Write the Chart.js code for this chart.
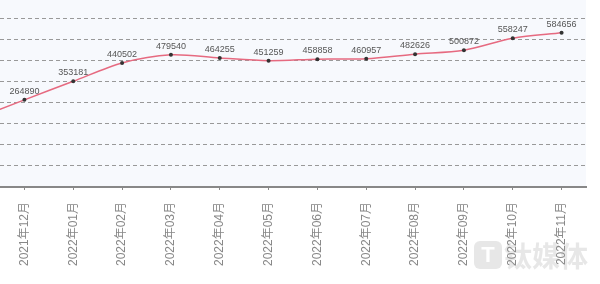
<!DOCTYPE html>
<html>
<head>
<meta charset="utf-8">
<script src="https://cdn.jsdelivr.net/npm/chart.js@4/dist/chart.umd.min.js"></script>
<style>
  html, body { margin: 0; padding: 0; background: #fff; }
  #wrap { position: relative; width: 600px; height: 284px; overflow: hidden; }
  #chart { position: absolute; left: -4px; top: -3px; }
  #mark { position: absolute; left: 474px; top: 240px; display: flex; align-items: center;
          font-family: "Noto Sans CJK SC", sans-serif; font-size: 28px; font-weight: bold;
          color: rgba(160,160,160,0.25); line-height: 30px; }
  #mark .logo { width: 28px; height: 28px; border-radius: 6px; background: rgba(160,160,160,0.25);
                color: #fff; font-family: Arial, sans-serif; font-size: 22px; text-align: center;
                line-height: 28px; margin-right: 2px; }
</style>
</head>
<body>
<div id="wrap">
  <canvas id="chart" width="604" height="287"></canvas>
  <div id="mark"><span class="logo">T</span>钛媒体</div>
</div>
<script>
// months shown (first one sits just left of the visible area)
const months = ["2021年11月", "2021年12月", "2022年01月", "2022年02月", "2022年03月", "2022年04月",
  "2022年05月", "2022年06月", "2022年07月", "2022年08月", "2022年09月", "2022年10月", "2022年11月"];
const values = [175000, 264890, 353181, 440502, 479540, 464255, 451259, 458858, 460957, 482626, 500872, 558247, 584656];

const yMin = -150000;
const yStep = 100000;
const yMax = yMin + 186 / 21 * yStep;

// light plot background
const bgPlugin = {
  id: "bg",
  beforeDraw(chart) {
    const a = chart.chartArea, ctx = chart.ctx;
    ctx.save();
    ctx.fillStyle = "#f7f9fd";
    ctx.fillRect(a.left, 0, a.right - a.left, a.bottom);
    ctx.restore();
  }
};

// value labels above points
const labelPlugin = {
  id: "vals",
  afterDatasetsDraw(chart) {
    const ctx = chart.ctx, a = chart.chartArea;
    const meta = chart.getDatasetMeta(0);
    ctx.save();
    ctx.font = "9px Arial, 'Liberation Sans', sans-serif";
    ctx.fillStyle = "#555";
    ctx.textAlign = "center";
    ctx.textBaseline = "bottom";
    meta.data.forEach((pt, i) => {
      if (pt.x < a.left || pt.x > a.right) return;
      ctx.fillText(values[i], pt.x, pt.y - 4);
    });
    ctx.restore();
  }
};

new Chart(document.getElementById("chart"), {
  type: "line",
  data: {
    labels: months,
    datasets: [{
      data: values,
      borderColor: "#e66a80",
      borderWidth: 1.5,
      tension: 0.3,
      pointRadius: 2,
      pointBackgroundColor: "#333",
      pointBorderColor: "#333",
      pointBorderWidth: 0
    }]
  },
  options: {
    responsive: false,
    animation: false,
    layout: { padding: { left: 0, right: 14, top: 0, bottom: 6 } },
    plugins: { legend: { display: false }, tooltip: { enabled: false } },
    scales: {
      x: {
        min: "2021年12月",
        offset: true,
        grid: { display: true, drawOnChartArea: false, drawTicks: true, tickLength: 3, color: "#888" },
        border: { display: true, color: "#888", width: 2 },
        ticks: {
          minRotation: 90, maxRotation: 90, padding: 12, autoSkip: false,
          color: "#888", font: { size: 12, family: "Arial, 'Liberation Sans', 'Noto Sans CJK SC', sans-serif" }
        }
      },
      y: {
        min: yMin,
        max: yMax,
        afterFit(axis) { axis.width = 0; },
        afterBuildTicks(axis) {
          const t = [];
          for (let v = yMin + yStep; v < yMax; v += yStep) t.push({ value: v });
          axis.ticks = t;
        },
        ticks: { display: false },
        border: { display: false, dash: [4, 3] },
        grid: { color: "#999", lineWidth: 1, drawTicks: false }
      }
    }
  },
  plugins: [bgPlugin, labelPlugin]
});
</script>
</body>
</html>
